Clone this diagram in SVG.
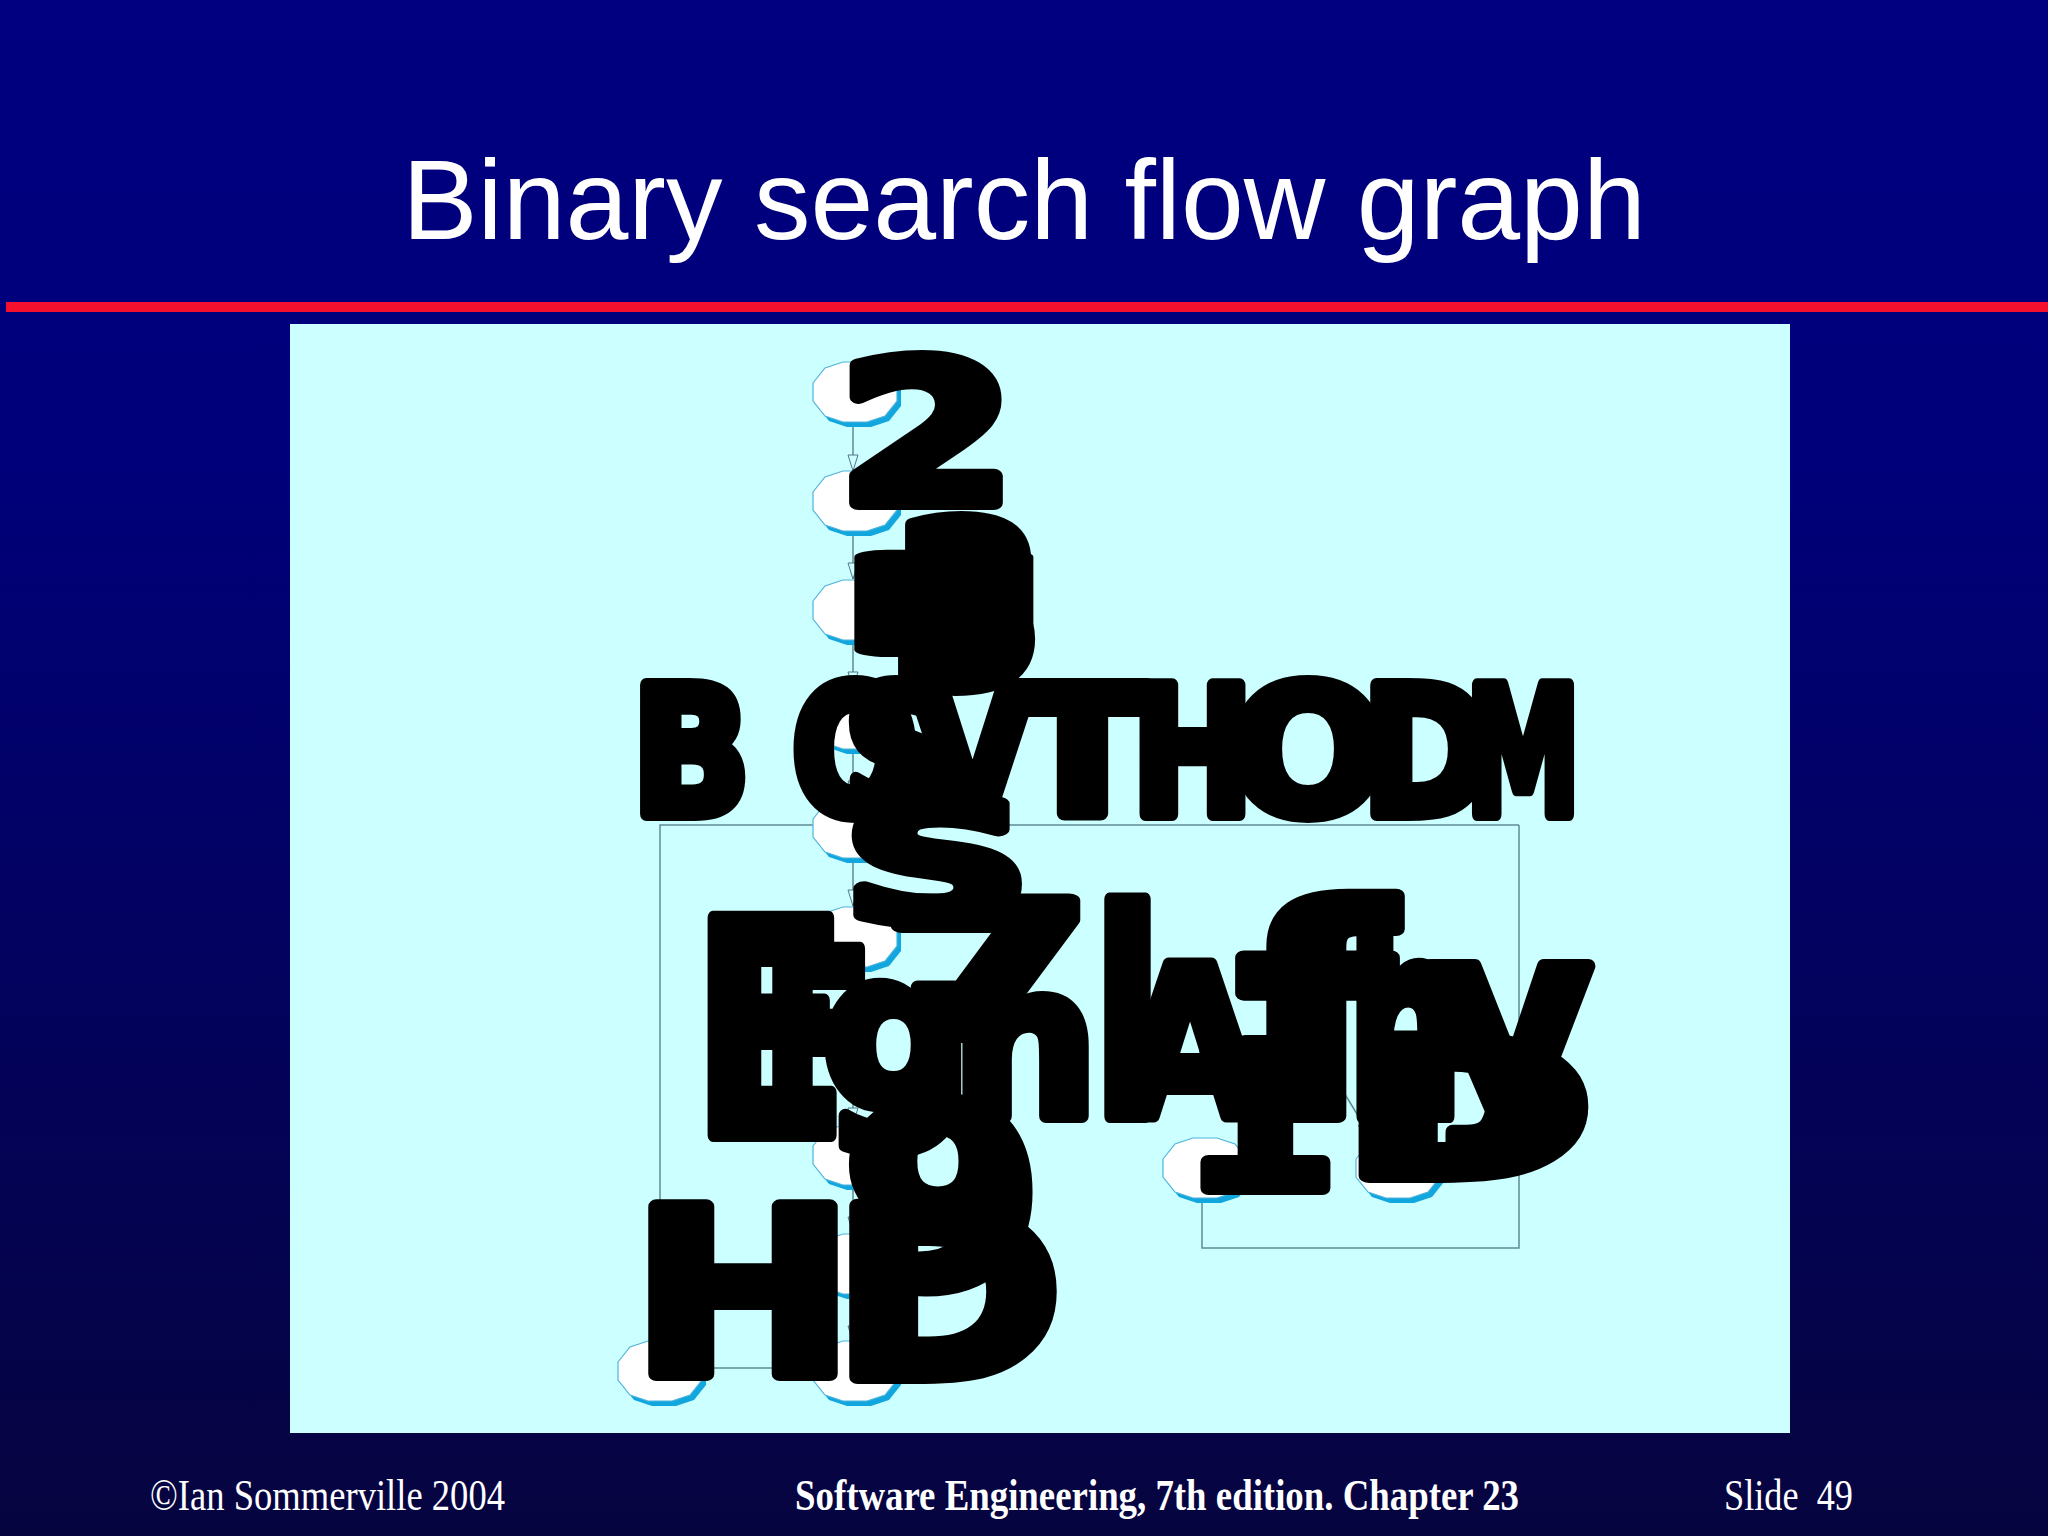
<svg xmlns="http://www.w3.org/2000/svg" xmlns:xlink="http://www.w3.org/1999/xlink" width="2048" height="1536" viewBox="0 0 2048 1536">
<defs>
<linearGradient id="bg" x1="0" y1="0" x2="0" y2="1">
<stop offset="0" stop-color="#000080"/>
<stop offset="0.3" stop-color="#00007a"/>
<stop offset="1" stop-color="#06043f"/>
</linearGradient>
<polygon id="oct" points="-42,-9 -30,-24 -12,-30 12,-30 30,-24 42,-9 42,9 30,24 12,30 -12,30 -30,24 -42,9"/>
<marker id="arr" markerUnits="userSpaceOnUse" viewBox="0 0 18 12" refX="17" refY="6" markerWidth="18" markerHeight="12" orient="auto">
<path d="M1,1 L17,6 L1,11 Z" fill="#ccffff" stroke="#557788" stroke-width="1"/>
</marker>
<style>
.title{font-family:"Liberation Sans",Arial,sans-serif;font-size:113px;fill:#fff}
.foot{font-family:"Liberation Serif","Times New Roman",serif;font-size:44px;fill:#fff;white-space:pre}
.footb{font-family:"Liberation Serif","Times New Roman",serif;font-size:44px;fill:#fff;font-weight:bold}
.sh{fill:#12a6de}
.nd{fill:#ffffff;stroke:#4fb4dc;stroke-width:1.2}
.cn{fill:none;stroke:#5f8a96;stroke-width:1.5}
.blk{font-family:"DejaVu Sans",sans-serif;font-weight:bold;fill:#000;stroke:#000;stroke-width:14;stroke-linejoin:round}
</style>
</defs>
<rect x="0" y="0" width="2048" height="1536" fill="url(#bg)"/>
<text class="title" x="1024" y="239" text-anchor="middle">Binary search flow graph</text>
<rect x="6" y="302" width="2042" height="10" fill="#f5102e"/>
<rect x="290" y="324" width="1500" height="1109" fill="#ccffff"/>

<g id="connectors">
<line class="cn" x1="853" y1="422" x2="853" y2="471" marker-end="url(#arr)"/>
<line class="cn" x1="853" y1="531" x2="853" y2="579" marker-end="url(#arr)"/>
<line class="cn" x1="853" y1="640" x2="853" y2="688" marker-end="url(#arr)"/>
<line class="cn" x1="853" y1="749" x2="853" y2="797" marker-end="url(#arr)"/>
<line class="cn" x1="853" y1="858" x2="853" y2="906" marker-end="url(#arr)"/>
<line class="cn" x1="853" y1="967" x2="853" y2="1124" marker-end="url(#arr)"/>
<line class="cn" x1="853" y1="1185" x2="853" y2="1233" marker-end="url(#arr)"/>
<line class="cn" x1="853" y1="1294" x2="853" y2="1342" marker-end="url(#arr)"/>
<polyline class="cn" points="1519,825 660,825 660,1340" marker-end="url(#arr)"/>
<polyline class="cn" points="1202,1200 1202,1248 1519,1248 1519,825"/>
<line class="cn" x1="703" y1="1368" x2="813" y2="1368"/>
<line class="cn" x1="1318" y1="1050" x2="1371" y2="1137" marker-end="url(#arr)"/>
</g>

<g id="node1"><use xlink:href="#oct" class="sh" transform="translate(859,397)"/><use xlink:href="#oct" class="nd" transform="translate(855,392)"/></g>
<g id="node2"><use xlink:href="#oct" class="sh" transform="translate(859,506)"/><use xlink:href="#oct" class="nd" transform="translate(855,501)"/></g>
<g id="node3"><use xlink:href="#oct" class="sh" transform="translate(859,615)"/><use xlink:href="#oct" class="nd" transform="translate(855,610)"/></g>
<g id="node4"><use xlink:href="#oct" class="sh" transform="translate(859,724)"/><use xlink:href="#oct" class="nd" transform="translate(855,719)"/></g>
<g id="node5"><use xlink:href="#oct" class="sh" transform="translate(859,833)"/><use xlink:href="#oct" class="nd" transform="translate(855,828)"/></g>
<g id="node6"><use xlink:href="#oct" class="sh" transform="translate(859,942)"/><use xlink:href="#oct" class="nd" transform="translate(855,937)"/></g>
<g id="node7"><use xlink:href="#oct" class="sh" transform="translate(859,1160)"/><use xlink:href="#oct" class="nd" transform="translate(855,1155)"/></g>
<g id="node8"><use xlink:href="#oct" class="sh" transform="translate(859,1269)"/><use xlink:href="#oct" class="nd" transform="translate(855,1264)"/></g>
<g id="node9"><use xlink:href="#oct" class="sh" transform="translate(859,1376)"/><use xlink:href="#oct" class="nd" transform="translate(855,1371)"/></g>
<g id="node10"><use xlink:href="#oct" class="sh" transform="translate(664,1376)"/><use xlink:href="#oct" class="nd" transform="translate(660,1371)"/></g>
<g id="node11"><use xlink:href="#oct" class="sh" transform="translate(1209,1173)"/><use xlink:href="#oct" class="nd" transform="translate(1205,1168)"/></g>
<g id="node12"><use xlink:href="#oct" class="sh" transform="translate(1402,1173)"/><use xlink:href="#oct" class="nd" transform="translate(1398,1168)"/></g>

<g id="labels">
<text class="blk" x="838" y="503" font-size="196" textLength="178" lengthAdjust="spacingAndGlyphs">2</text>
<text class="blk" x="890" y="686" font-size="226" textLength="156" lengthAdjust="spacingAndGlyphs">3</text>
<text class="blk" x="832" y="650" font-size="128" textLength="224" lengthAdjust="spacingAndGlyphs">I</text>
<text class="blk" x="632" y="814" font-size="176" textLength="118" lengthAdjust="spacingAndGlyphs">B</text>
<text class="blk" x="792" y="814" font-size="176" textLength="126" lengthAdjust="spacingAndGlyphs">O</text>
<text class="blk" x="844" y="814" font-size="176" textLength="108" lengthAdjust="spacingAndGlyphs">S</text>
<text class="blk" x="912" y="814" font-size="176" textLength="121" lengthAdjust="spacingAndGlyphs">V</text>
<text class="blk" x="1017" y="814" font-size="176" textLength="131" lengthAdjust="spacingAndGlyphs">T</text>
<text class="blk" x="1132" y="814" font-size="176" textLength="121" lengthAdjust="spacingAndGlyphs">H</text>
<text class="blk" x="1230" y="814" font-size="176" textLength="156" lengthAdjust="spacingAndGlyphs">O</text>
<text class="blk" x="1362" y="814" font-size="176" textLength="131" lengthAdjust="spacingAndGlyphs">D</text>
<text class="blk" x="1466" y="814" font-size="176" textLength="114" lengthAdjust="spacingAndGlyphs">M</text>
<text class="blk" x="844" y="921" font-size="166" textLength="186" lengthAdjust="spacingAndGlyphs">S</text>
<text class="blk" x="692" y="1135" font-size="298" textLength="156" lengthAdjust="spacingAndGlyphs">E</text>
<text class="blk" x="762" y="1125" font-size="240" textLength="112" lengthAdjust="spacingAndGlyphs">F</text>
<text class="blk" x="822" y="1105" font-size="215" textLength="150" lengthAdjust="spacingAndGlyphs">g</text>
<text class="blk" x="882" y="1036" font-size="186" textLength="211" lengthAdjust="spacingAndGlyphs">7</text>
<text class="blk" x="952" y="1116" font-size="211" textLength="146" lengthAdjust="spacingAndGlyphs">n</text>
<text class="blk" x="1092" y="1116" font-size="285" textLength="71" lengthAdjust="spacingAndGlyphs">l</text>
<text class="blk" x="1117" y="1116" font-size="206" textLength="146" lengthAdjust="spacingAndGlyphs">A</text>
<text class="blk" x="1237" y="1116" font-size="290" textLength="156" lengthAdjust="spacingAndGlyphs">f</text>
<text class="blk" x="1347" y="1116" font-size="270" textLength="116" lengthAdjust="spacingAndGlyphs">h</text>
<text class="blk" x="1427" y="1106" font-size="255" textLength="166" lengthAdjust="spacingAndGlyphs">y</text>
<text class="blk" x="1182" y="1188" font-size="200" textLength="156" lengthAdjust="spacingAndGlyphs">1</text>
<text class="blk" x="1342" y="1176" font-size="190" textLength="251" lengthAdjust="spacingAndGlyphs">D</text>
<text class="blk" x="842" y="1286" font-size="252" textLength="201" lengthAdjust="spacingAndGlyphs">9</text>
<text class="blk" x="632" y="1374" font-size="230" textLength="222" lengthAdjust="spacingAndGlyphs">H</text>
<text class="blk" x="832" y="1377" font-size="235" textLength="231" lengthAdjust="spacingAndGlyphs">D</text>
</g>

<text class="foot" x="150" y="1510" textLength="355" lengthAdjust="spacingAndGlyphs">©Ian Sommerville 2004</text>
<text class="footb" x="795" y="1510" textLength="724" lengthAdjust="spacingAndGlyphs">Software Engineering, 7th edition. Chapter 23</text>
<text class="foot" x="1724" y="1510" textLength="129" lengthAdjust="spacingAndGlyphs" xml:space="preserve">Slide  49</text>
</svg>
